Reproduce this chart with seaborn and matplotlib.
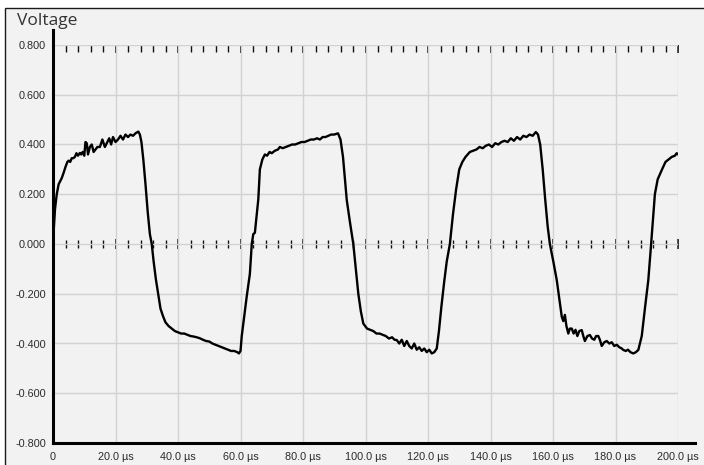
import numpy as np
import pandas as pd
import seaborn as sns
import matplotlib.pyplot as plt
from matplotlib.ticker import MultipleLocator, FuncFormatter
from matplotlib.patches import Rectangle

# Sampled oscilloscope trace: time in microseconds, voltage in volts
time_us = [
    0.0, 0.3, 0.64, 1.2, 1.8, 2.8, 3.5, 4.0, 4.6, 5.0, 5.5, 6.0, 6.5, 7.0, 7.5, 8.0,
    8.6, 9.0, 9.5, 10.0, 10.4, 10.8, 11.2, 11.8, 12.4, 13.0, 13.6, 14.2, 15.0, 15.8,
    16.6, 17.4, 18.0, 18.6, 19.2, 20.0, 20.8, 21.6, 22.4, 23.2, 24.0, 24.8, 25.6, 26.4,
    27.3, 27.8, 28.3, 28.9, 29.6, 30.3, 31.0, 31.6, 32.2, 32.9, 33.7, 34.4, 35.2, 36.0,
    37.0, 38.0, 39.0, 40.0, 41.0, 42.0, 43.0, 44.0, 45.0, 46.0, 47.0, 48.0, 49.0, 50.0,
    51.0, 52.0, 53.0, 54.0, 55.0, 56.0, 57.0, 58.0, 59.0, 59.5, 60.0, 60.4, 61.2, 62.0,
    63.0, 63.6, 64.1, 64.6, 65.2, 65.7, 66.2, 67.0, 67.8, 68.5, 69.3, 70.0, 71.0, 72.0,
    72.6, 73.5, 74.5, 75.5, 76.5, 77.5, 78.5, 79.5, 80.5, 81.5, 82.5, 83.5, 84.5, 85.4,
    86.3, 87.2, 88.1, 89.0, 90.0, 91.2, 92.0, 92.8, 93.5, 94.0, 95.0, 96.1, 96.9, 97.7,
    98.5, 99.3, 100.5, 101.5, 102.5, 103.5, 104.5, 105.7, 106.5, 107.5, 108.5, 109.3,
    110.0, 110.8, 111.6, 112.4, 113.2, 114.0, 114.8, 115.6, 116.4, 117.2, 118.0, 118.8,
    119.6, 120.4, 121.2, 122.0, 122.8, 123.5, 124.3, 125.2, 126.0, 127.0, 128.0, 129.0,
    130.0, 131.0, 132.0, 133.4, 134.5, 135.5, 136.5, 137.5, 138.5, 139.5, 140.5, 141.5,
    142.5, 143.5, 144.5, 145.5, 146.5, 147.5, 148.5, 149.5, 150.5, 151.5, 152.5, 153.5,
    154.5, 155.2, 155.9, 156.7, 157.5, 158.3, 159.0, 160.1, 161.2, 162.8, 163.3, 163.8,
    164.3, 164.9, 165.4, 166.0, 166.6, 167.2, 167.8, 168.4, 169.2, 169.7, 170.2, 171.0,
    171.8, 172.5, 173.2, 173.8, 174.5, 175.0, 175.6, 176.4, 177.2, 178.0, 178.8, 179.6,
    180.4, 181.2, 182.0, 182.5, 183.3, 184.0, 184.8, 185.7, 186.5, 187.3, 188.4, 189.5,
    190.5, 191.4, 192.6, 193.5, 194.9, 196.0, 197.0, 198.0, 199.0, 199.6, 200.0,
]
voltage = [
    0.0, 0.07, 0.14, 0.2, 0.24, 0.265, 0.29, 0.31, 0.33, 0.335, 0.33, 0.345, 0.345, 0.35,
    0.365, 0.355, 0.366, 0.36, 0.37, 0.355, 0.41, 0.405, 0.36, 0.39, 0.40, 0.37, 0.38,
    0.39, 0.39, 0.42, 0.39, 0.41, 0.425, 0.40, 0.43, 0.41, 0.42, 0.435, 0.42, 0.44, 0.43,
    0.44, 0.435, 0.445, 0.452, 0.44, 0.41, 0.34, 0.24, 0.13, 0.04, 0.0, -0.07, -0.14,
    -0.205, -0.26, -0.29, -0.315, -0.33, -0.34, -0.35, -0.355, -0.36, -0.36, -0.365,
    -0.37, -0.372, -0.375, -0.379, -0.385, -0.39, -0.392, -0.40, -0.405, -0.41, -0.415,
    -0.42, -0.425, -0.43, -0.43, -0.435, -0.44, -0.43, -0.37, -0.29, -0.21, -0.12, 0.0,
    0.04, 0.045, 0.12, 0.18, 0.30, 0.34, 0.36, 0.355, 0.37, 0.365, 0.375, 0.38, 0.39,
    0.385, 0.39, 0.395, 0.40, 0.40, 0.405, 0.41, 0.41, 0.415, 0.42, 0.42, 0.425, 0.42,
    0.43, 0.43, 0.435, 0.44, 0.44, 0.445, 0.42, 0.35, 0.25, 0.177, 0.09, 0.0, -0.1, -0.2,
    -0.27, -0.32, -0.34, -0.345, -0.35, -0.36, -0.36, -0.366, -0.37, -0.38, -0.375,
    -0.385, -0.386, -0.40, -0.385, -0.41, -0.39, -0.41, -0.42, -0.40, -0.425, -0.415,
    -0.43, -0.42, -0.435, -0.425, -0.44, -0.435, -0.42, -0.35, -0.25, -0.15, -0.07, 0.0,
    0.12, 0.22, 0.30, 0.33, 0.35, 0.37, 0.375, 0.38, 0.39, 0.385, 0.395, 0.40, 0.39,
    0.405, 0.40, 0.41, 0.415, 0.41, 0.425, 0.415, 0.43, 0.42, 0.435, 0.43, 0.44, 0.435,
    0.45, 0.44, 0.40, 0.30, 0.18, 0.07, 0.0, -0.07, -0.145, -0.292, -0.31, -0.285,
    -0.33, -0.36, -0.34, -0.34, -0.36, -0.345, -0.37, -0.35, -0.346, -0.37, -0.39, -0.37,
    -0.366, -0.38, -0.385, -0.37, -0.37, -0.385, -0.41, -0.395, -0.39, -0.40, -0.395,
    -0.41, -0.405, -0.415, -0.42, -0.426, -0.43, -0.425, -0.435, -0.44, -0.435, -0.426,
    -0.37, -0.25, -0.145, 0.0, 0.2, 0.26, 0.30, 0.33, 0.34, 0.35, 0.355, 0.365, 0.36,
]

df = pd.DataFrame({"t": time_us, "v": voltage})

sns.set_style("white")
plt.rcParams["font.family"] = ["Liberation Sans", "DejaVu Sans"]

W, H = 704, 465
BG = "#f2f2f2"
fig = plt.figure(figsize=(W / 100, H / 100), dpi=100)
fig.patch.set_facecolor("white")
# panel background with a thin frame on its left and top edges
fig.add_artist(Rectangle((5 / W, -0.05), 1.0, (H - 8) / H + 0.05,
                         transform=fig.transFigure, facecolor=BG,
                         edgecolor="#1a1a1a", lw=1.0, zorder=-10))

ax = fig.add_axes([53 / W, 22 / H, 625 / W, 398 / H])
ax.set_facecolor(BG)

sns.lineplot(data=df, x="t", y="v", ax=ax, color="black", lw=1.7,
             sort=False, estimator=None, zorder=5)

ax.set_xlim(0, 200)
ax.set_ylim(-0.8, 0.8)
ax.set_xlabel("")
ax.set_ylabel("")

ax.xaxis.set_major_locator(MultipleLocator(20))
ax.xaxis.set_minor_locator(MultipleLocator(4))
ax.yaxis.set_major_locator(MultipleLocator(0.2))
ax.yaxis.set_minor_locator(MultipleLocator(0.04))
ax.xaxis.set_major_formatter(FuncFormatter(lambda x, p: "0" if abs(x) < 1e-9 else f"{x:.1f} µs"))
ax.yaxis.set_major_formatter(FuncFormatter(lambda y, p: f"{y:.3f}"))

ax.grid(True, which="major", color="#d2d2d2", lw=1.0)
ax.set_axisbelow(True)

for s in ("top", "right"):
    ax.spines[s].set_visible(False)
for s in ("left", "bottom"):
    ax.spines[s].set_linewidth(2.2)
    ax.spines[s].set_color("black")
    ax.spines[s].set_zorder(6)
ax.spines["left"].set_bounds(-0.8, 0.86)
ax.spines["bottom"].set_bounds(0, 205.4)

ax.tick_params(which="major", direction="inout", length=7, width=1.1,
               color="black", labelsize=7.8, labelcolor="#2b2b2b")
ax.tick_params(axis="y", which="major", pad=1.5)
ax.tick_params(axis="x", which="major", pad=3)
ax.tick_params(which="minor", direction="in", length=5, width=1.0, color="black")

# tick rows along the zero line and along the top edge
for loc, direc, lmaj, lmin in ((0.5, "inout", 7, 6), ("top", "in", 6, 5)):
    sec = ax.secondary_xaxis(loc)
    for sp in sec.spines.values():
        sp.set_visible(False)
    sec.xaxis.set_major_locator(MultipleLocator(20))
    sec.xaxis.set_minor_locator(MultipleLocator(4))
    sec.tick_params(which="major", direction=direc, length=lmaj, width=1.2,
                    color="#111111", labelbottom=False, labeltop=False)
    sec.tick_params(which="minor", direction=direc, length=lmin, width=1.0,
                    color="#111111")

fig.text(17 / W, 1 - 25 / H, "Voltage", fontsize=12.5, color="#333333",
         family=["Open Sans", "DejaVu Sans"], va="baseline", ha="left")

fig.savefig("out.png", dpi=100, facecolor=fig.get_facecolor())
